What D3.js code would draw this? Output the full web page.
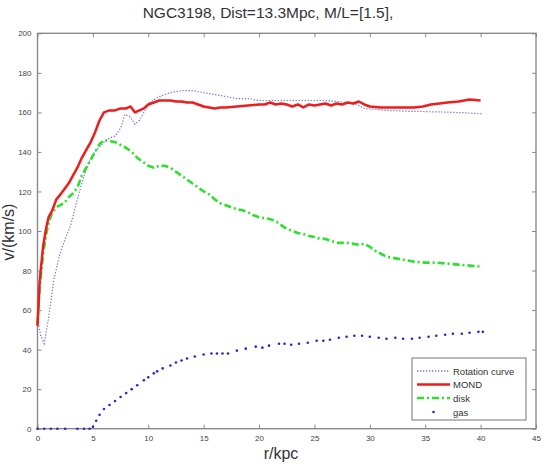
<!DOCTYPE html>
<html>
<head>
<meta charset="utf-8">
<script src="https://cdn.jsdelivr.net/npm/d3@7"></script>
<style>
  body { margin: 0; background: #fff; }
  svg { display: block; font-family: "Liberation Sans", Arial, sans-serif; }
</style>
</head>
<body>
<svg id="chart" width="553" height="464"></svg>
<script>
// ---- data ----
const titleText = "NGC3198, Dist=13.3Mpc, M/L=[1.5],";
const xTicks = [0, 5, 10, 15, 20, 25, 30, 35, 40, 45];
const yTicks = [0, 20, 40, 60, 80, 100, 120, 140, 160, 180, 200];
const legendLabels = ["Rotation curve", "MOND", "disk", "gas"];

const rotR = [0, 0.3, 0.6, 1.0, 1.5, 2.0, 2.5, 3.0, 3.5, 4.0, 4.5, 5.0, 5.5, 6.0, 6.5, 7.0, 7.5, 7.9, 8.3, 8.8, 9.2, 9.6, 10.1, 11, 12, 13, 14, 15, 16, 17, 18, 19, 20, 21, 22, 23, 24, 25, 26, 27, 28, 28.8, 29.5, 30.5, 31.5, 32.5, 33.5, 34.5, 35.5, 36.5, 37.5, 38.5, 39.5, 40.1];
const rotV = [55, 47, 43, 56, 76, 88, 96, 103, 114, 124, 133, 139, 142, 145, 147, 148, 152, 159, 158, 154, 156, 160, 165, 168, 170, 171, 171, 170, 169, 168, 167, 167, 166, 166, 166, 166, 166, 166, 166, 165.5, 165, 164, 162, 161.5, 161, 160.8, 160.5, 160.5, 160.3, 160.2, 160, 159.8, 159.5, 159.3];

const mondR = [0, 0.2, 0.5, 0.8, 1.0, 1.3, 1.7, 2.0, 2.4, 2.8, 3.2, 3.6, 4.0, 4.4, 4.8, 5.2, 5.6, 6.0, 6.5, 7.0, 7.5, 8.0, 8.4, 8.8, 9.2, 9.6, 10, 10.5, 11, 11.5, 12, 12.5, 13, 13.5, 14, 14.5, 15, 15.5, 16, 16.5, 17, 18, 19, 20, 20.5, 21, 21.5, 22, 22.5, 23, 23.5, 24, 24.5, 25, 25.5, 26, 26.5, 27, 27.5, 28, 28.5, 29, 29.5, 30, 31, 32, 33, 34, 34.8, 35.5, 36.3, 37, 38, 39, 40];
const mondV = [52, 75, 92, 102, 107, 110, 116, 118, 121, 124, 128, 132, 137, 141, 145, 150, 156, 160, 161, 161, 162, 162, 163, 160, 161, 162, 164, 165, 166, 166, 166, 165.5, 165.5, 165, 165, 164, 163, 162.5, 162, 162.5, 162.5, 163, 163.5, 164, 164, 165, 164, 164.5, 164, 163, 164, 162.5, 164, 163.5, 164, 164.5, 163.5, 164.5, 164, 165, 164.5, 165.5, 164, 163, 162.5, 162.5, 162.5, 162.5, 163, 164, 164.5, 165, 165.5, 166.5, 166];

const diskR = [0, 0.2, 0.5, 0.8, 1.0, 1.3, 1.7, 2.0, 2.4, 2.8, 3.2, 3.6, 4.0, 4.4, 4.8, 5.2, 5.6, 6.0, 6.5, 7.0, 7.5, 8.0, 8.5, 9.0, 9.5, 10, 10.5, 11, 11.5, 12, 12.5, 13, 13.5, 14, 14.5, 15, 15.5, 16, 16.5, 17, 17.5, 18, 18.5, 19, 19.5, 20, 20.5, 21, 21.5, 22, 22.5, 23, 23.5, 24, 24.5, 25, 25.5, 26, 26.5, 27, 27.5, 28, 28.5, 29, 29.5, 30, 30.5, 31, 31.5, 32, 33, 34, 35, 36, 37, 38, 39, 40];
const diskV = [53, 72, 88, 99, 104, 109, 112, 113, 114, 117, 119, 122, 128, 132, 136, 140, 144, 146, 145.5, 145, 143.5, 142, 140, 137, 135, 133, 132, 133, 133, 132, 130, 128, 126, 124, 122, 120, 118.5, 116, 114, 113, 112, 111, 110.5, 109.5, 108, 107, 106.5, 106, 105, 103, 101, 100, 99, 98.5, 97.5, 97, 96, 96, 95, 94, 94, 94, 93.5, 93, 93.5, 92, 90, 88.5, 87, 86.5, 85.5, 84.5, 84, 84, 83.5, 83, 82.5, 82];

const gasR = [0, 0.6, 1.2, 1.8, 2.5, 3.6, 4.2, 4.7, 5.0, 5.3, 5.6, 6.0, 6.5, 7.0, 7.5, 8.0, 8.5, 9.0, 9.6, 10.0, 10.5, 10.8, 11.3, 12.0, 12.5, 13.0, 13.5, 14.2, 15.0, 15.7, 16.2, 16.7, 17.2, 18.0, 18.8, 19.7, 20.3, 20.9, 21.8, 22.3, 22.9, 23.6, 24.4, 25.2, 25.8, 26.4, 27.2, 27.9, 28.6, 29.3, 30.0, 30.8, 31.5, 32.3, 33.0, 33.8, 34.5, 35.3, 36.0, 36.8, 37.5, 38.3, 39.0, 39.8, 40.2];
const gasV = [0, 0, 0, 0, 0, 0, 0, 0, 1, 4, 7, 10, 12, 14, 16, 18, 20, 22, 24.5, 26, 28, 29, 30.5, 32, 33.5, 34.5, 35.5, 36.5, 37.5, 38, 38, 38, 38, 39.5, 40.5, 41.5, 41, 42, 43, 43, 42.5, 43, 43.5, 44.5, 44.5, 45, 46, 46.5, 47, 47, 46.5, 46, 45.5, 46, 45.5, 45.5, 46, 46.5, 47, 47.5, 48, 48, 48.5, 49, 49];

// ---- layout ----
const svg = d3.select("#chart");
const L = 37.5, R = 536, T = 33.3, B = 428.7;
const x = d3.scaleLinear().domain([0, 45]).range([L, R]);
const y = d3.scaleLinear().domain([0, 200]).range([B, T]);
const axisColor = "#8a8a8a";
const textColor = "#444";

// title
svg.append("text").attr("x", 268).attr("y", 18).attr("text-anchor", "middle")
  .attr("font-size", 15.5).attr("fill", "#333").text(titleText);

// axes (matlab style, inward ticks on all sides)
const tickLen = 4;
const gx = svg.append("g").attr("transform", `translate(0,${B})`)
  .call(d3.axisBottom(x).tickValues(xTicks).tickSize(-tickLen).tickPadding(7));
const gxTop = svg.append("g").attr("transform", `translate(0,${T})`)
  .call(d3.axisTop(x).tickValues(xTicks).tickSize(-tickLen).tickFormat(""));
const gy = svg.append("g").attr("transform", `translate(${L},0)`)
  .call(d3.axisLeft(y).tickValues(yTicks).tickSize(-tickLen).tickPadding(6));
const gyR = svg.append("g").attr("transform", `translate(${R},0)`)
  .call(d3.axisRight(y).tickValues(yTicks).tickSize(-tickLen).tickFormat(""));
[gx, gxTop, gy, gyR].forEach(g => {
  g.select(".domain").remove();
  g.selectAll(".tick line").attr("stroke", axisColor);
  g.selectAll(".tick text").attr("fill", textColor).attr("font-size", 8)
    .attr("font-family", "Liberation Sans, Arial, sans-serif");
});
svg.append("rect").attr("x", L).attr("y", T).attr("width", R - L).attr("height", B - T)
  .attr("fill", "none").attr("stroke", axisColor).attr("stroke-width", 1.4);

// axis labels
svg.append("text").attr("x", 281).attr("y", 459).attr("text-anchor", "middle")
  .attr("font-size", 16).attr("fill", "#333").text("r/kpc");
svg.append("text").attr("transform", "translate(14,232) rotate(-90)").attr("text-anchor", "middle")
  .attr("font-size", 16).attr("fill", "#333").text("v/(km/s)");

// lines
const line = d3.line().x(d => x(d[0])).y(d => y(d[1]));
const zip = (a, b) => a.map((v, i) => [v, b[i]]);

const styles = {
  rot:  { stroke: "#7474d2", width: 1.2, dash: "1.3,1.7" },
  mond: { stroke: "#ee1c1c", width: 2.5, dash: null },
  disk: { stroke: "#2ee02e", width: 2.6, dash: "7,3,2,3" },
  gas:  { fill: "#2a2ac0", r: 1.3 }
};

svg.append("path").datum(zip(rotR, rotV)).attr("d", line).attr("fill", "none")
  .attr("stroke", styles.rot.stroke).attr("stroke-width", styles.rot.width)
  .attr("stroke-dasharray", styles.rot.dash);
svg.append("path").datum(zip(diskR, diskV)).attr("d", line).attr("fill", "none")
  .attr("stroke", styles.disk.stroke).attr("stroke-width", styles.disk.width)
  .attr("stroke-dasharray", styles.disk.dash);
svg.append("path").datum(zip(mondR, mondV)).attr("d", line).attr("fill", "none")
  .attr("stroke", styles.mond.stroke).attr("stroke-width", styles.mond.width)
  .attr("stroke-linejoin", "round");
svg.append("g").selectAll("circle").data(zip(gasR, gasV)).join("circle")
  .attr("cx", d => x(d[0])).attr("cy", d => y(d[1])).attr("r", styles.gas.r)
  .attr("fill", styles.gas.fill);

// legend
const lg = svg.append("g");
lg.append("rect").attr("x", 412).attr("y", 358).attr("width", 114).attr("height", 62)
  .attr("fill", "#fff").attr("stroke", axisColor).attr("stroke-width", 1.2);
const ly = [371, 384.5, 398, 412];
const lx0 = 417, lx1 = 450;
legendLabels.forEach((lab, i) => {
  const yy = ly[i];
  if (i === 0) lg.append("line").attr("x1", lx0).attr("x2", lx1).attr("y1", yy).attr("y2", yy)
    .attr("stroke", styles.rot.stroke).attr("stroke-width", 1.3).attr("stroke-dasharray", styles.rot.dash);
  if (i === 1) lg.append("line").attr("x1", lx0).attr("x2", lx1).attr("y1", yy).attr("y2", yy)
    .attr("stroke", styles.mond.stroke).attr("stroke-width", styles.mond.width);
  if (i === 2) lg.append("line").attr("x1", lx0).attr("x2", lx1).attr("y1", yy).attr("y2", yy)
    .attr("stroke", styles.disk.stroke).attr("stroke-width", styles.disk.width).attr("stroke-dasharray", styles.disk.dash);
  if (i === 3) lg.append("circle").attr("cx", (lx0 + lx1) / 2).attr("cy", yy).attr("r", 1.3)
    .attr("fill", styles.gas.fill);
  lg.append("text").attr("x", 453).attr("y", yy + 3.5).attr("font-size", 9.5)
    .attr("fill", "#333").text(lab);
});
</script>
</body>
</html>
